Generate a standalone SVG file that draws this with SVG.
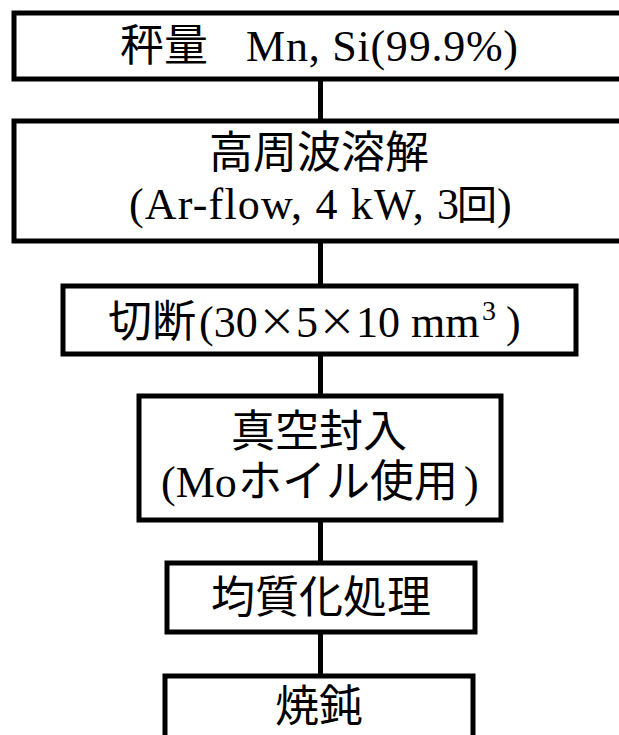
<svg xmlns="http://www.w3.org/2000/svg" width="619" height="735" viewBox="0 0 619 735">
<style>
.box{fill:#fff;stroke:#000;stroke-width:5}
.con{stroke:#000;stroke-width:5;fill:none}
.j{font-family:"Noto Sans CJK JP","Noto Sans CJK SC",sans-serif;font-size:44px;fill:#000}
.l{font-family:"Liberation Serif","Times New Roman",serif;font-size:44px;fill:#000}
.m{text-anchor:middle}
.x{font-size:38px}
.sup{font-size:28px}
.k{font-size:40px}
</style>
<rect width="619" height="735" fill="#fff"/>
<g id="connectors">
<line class="con" x1="320.5" y1="79" x2="320.5" y2="121"/>
<line class="con" x1="320.5" y1="241" x2="320.5" y2="286"/>
<line class="con" x1="320.5" y1="354" x2="320.5" y2="396"/>
<line class="con" x1="320.5" y1="520" x2="320.5" y2="563"/>
<line class="con" x1="320.5" y1="632" x2="320.5" y2="676"/>
</g>
<g id="n1">
<rect class="box" x="14" y="13" width="612" height="66"/>
<text class="j" x="120" y="61">秤量</text>
<text class="l" x="246" y="61" textLength="272" lengthAdjust="spacing">Mn, Si(99.9%)</text>
</g>
<g id="n2">
<rect class="box" x="14" y="121" width="612" height="120"/>
<text class="j m" x="319" y="168">高周波溶解</text>
<text class="l" x="129" y="219" textLength="330" lengthAdjust="spacing">(Ar-flow, 4 kW, 3</text>
<text class="j k" x="457" y="219">回</text>
<text class="l" x="497" y="219">)</text>
</g>
<g id="n3">
<rect class="box" x="63" y="286" width="513" height="68"/>
<text class="j" x="108" y="337">切断</text>
<text class="l" x="199" y="337">(30</text>
<text class="j m x" x="277" y="335">×</text>
<text class="l" x="296" y="337">5</text>
<text class="j m x" x="337" y="335">×</text>
<text class="l" x="356" y="337">10 mm</text>
<text class="l sup" x="482" y="320">3</text>
<text class="l" x="506" y="337">)</text>
</g>
<g id="n4">
<rect class="box" x="139" y="396" width="362" height="124"/>
<text class="j m" x="319" y="447">真空封入</text>
<text class="l" x="161" y="497">(Mo</text>
<text class="j" x="238" y="497">ホイル使用</text>
<text class="l" x="464" y="497">)</text>
</g>
<g id="n5">
<rect class="box" x="167" y="563" width="308" height="69"/>
<text class="j m" x="321" y="613">均質化処理</text>
</g>
<g id="n6">
<rect class="box" x="165" y="676" width="308" height="80"/>
<text class="j m" x="319" y="722">焼鈍</text>
</g>
</svg>
